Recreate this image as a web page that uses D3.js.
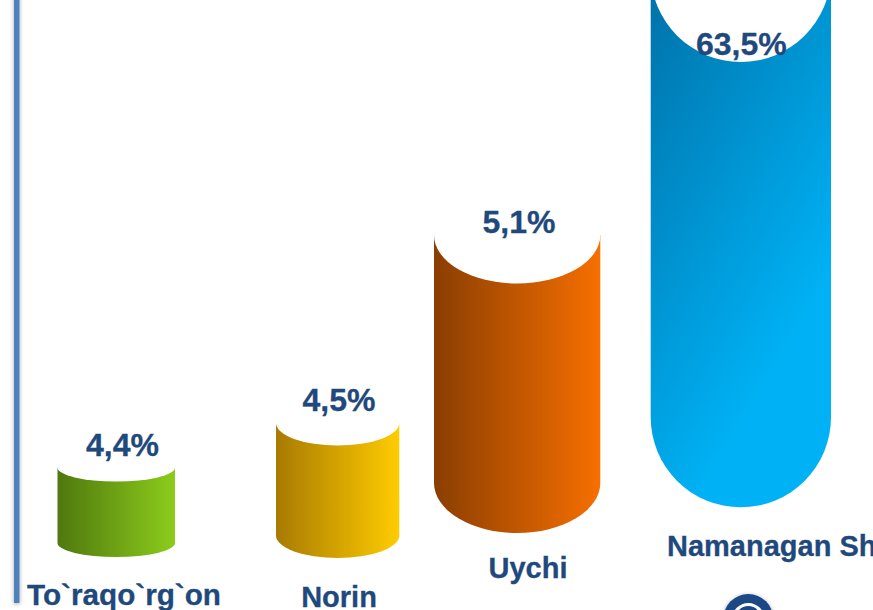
<!DOCTYPE html>
<html><head><meta charset="utf-8">
<script src="https://cdn.jsdelivr.net/npm/d3@7"></script>
<style>html,body{margin:0;padding:0;background:#fff;overflow:hidden}svg{display:block}</style>
</head><body><div id="c"></div>
<script>
const categories = ["To`raqo`rg`on", "Norin", "Uychi", "Namanagan Shahar"];
const values = [4.4, 4.5, 5.1, 63.5];
const valueLabels = ["4,4%", "4,5%", "5,1%", "63,5%"];

const W = 873, H = 610;
const svg = d3.select("#c").append("svg").attr("width", W).attr("height", H).attr("viewBox", [0, 0, W, H]);
const defs = svg.append("defs");

// scales: the reference's pictorial chart is not linear, so the value axis is piecewise
const yTop = d3.scaleLinear().domain(values).range([467.5, 423, 235, -28]);
const xLeft = d3.scaleOrdinal(categories, [57.5, 276, 434, 650.7]);
const xWidth = d3.scaleOrdinal(categories, [117.5, 123.3, 166.3, 180.3]);
const yBase = d3.scaleOrdinal(categories, [543, 535.5, 483, 417.3]);
const ry = d3.scaleOrdinal(categories, [14, 22.5, 50, 90]);
const ryTop = d3.scaleOrdinal(categories, [14, 22.5, 48.5, 90]);
const valX = d3.scaleOrdinal(categories, [122.5, 339, 519, 741.3]);
const valY = d3.scaleOrdinal(categories, [456, 410.5, 233, 55]);
const catX = d3.scaleOrdinal(categories, [124, 339, 528, 667]);
const catY = d3.scaleOrdinal(categories, [604.5, 606.5, 577.5, 556]);
const catAnchor = d3.scaleOrdinal(categories, ["middle", "middle", "middle", "start"]);
const catSize = d3.scaleOrdinal(categories, [29.7, 29, 29, 29]);
const gradFrom = d3.scaleOrdinal(categories, ["#4f780e", "#a87a02", "#8a3e02", "#006fa6"]);
const gradTo = d3.scaleOrdinal(categories, ["#8ccc1c", "#ffcc00", "#f76f00", "#00b2f5"]);

const shadow = defs.append("filter").attr("id", "soft")
  .attr("x", "-100%").attr("y", "-5%").attr("width", "300%").attr("height", "110%");
shadow.append("feDropShadow").attr("dx", 0).attr("dy", 1).attr("stdDeviation", 2)
  .attr("flood-color", "#000").attr("flood-opacity", 0.35);

categories.forEach((c, i) => {
  const g = defs.append("linearGradient").attr("id", "g" + i).attr("gradientUnits", "userSpaceOnUse");
  const x0 = xLeft(c), x1 = x0 + xWidth(c);
  if (i === 3) {
    g.attr("x1", x0).attr("y1", -40).attr("x2", 925).attr("y2", 125);
  } else {
    g.attr("x1", x0).attr("y1", 0).attr("x2", x1).attr("y2", 0);
  }
  g.append("stop").attr("offset", 0).attr("stop-color", gradFrom(c));
  g.append("stop").attr("offset", 1).attr("stop-color", gradTo(c));
});

// left axis rule
svg.append("rect").attr("x", 14).attr("y", -20).attr("width", 5.5).attr("height", 623)
  .attr("fill", "#4f81bd").attr("filter", "url(#soft)");

const bars = svg.selectAll("g.bar").data(categories.map((c, i) => ({c, v: values[i], label: valueLabels[i]})))
  .join("g").attr("class", "bar");

bars.append("path")
  .attr("fill", (d, i) => `url(#g${i})`)
  .attr("d", d => {
    const l = xLeft(d.c), w = xWidth(d.c), r = ry(d.c), t = yTop(d.v), b = yBase(d.c);
    return `M${l},${t}L${l},${b}A${w / 2},${r} 0 0 0 ${l + w},${b}L${l + w},${t}Z`;
  });

bars.append("ellipse")
  .attr("fill", "#fff")
  .attr("cx", d => xLeft(d.c) + xWidth(d.c) / 2)
  .attr("cy", d => yTop(d.v))
  .attr("rx", d => xWidth(d.c) / 2)
  .attr("ry", d => ryTop(d.c));

const font = "'Liberation Sans', Arial, sans-serif";
bars.append("text")
  .attr("x", d => valX(d.c)).attr("y", d => valY(d.c))
  .attr("text-anchor", "middle")
  .attr("font-family", font).attr("font-weight", "bold").attr("font-size", 32)
  .attr("stroke", "#1f497d").attr("stroke-width", 0.3)
  .attr("fill", "#1f497d").text(d => d.label);

bars.append("text")
  .attr("x", d => catX(d.c)).attr("y", d => catY(d.c))
  .attr("text-anchor", d => catAnchor(d.c))
  .attr("font-family", font).attr("font-weight", "bold").attr("font-size", d => catSize(d.c))
  .attr("stroke", "#1f497d").attr("stroke-width", 0.3)
  .attr("fill", "#1f497d").text(d => d.c);

// logo, cut by the bottom edge of the picture
const logo = svg.append("g");
logo.append("circle").attr("cx", 748.3).attr("cy", 619).attr("r", 25).attr("fill", "#1a4a85").attr("filter", "url(#soft)");
logo.append("circle").attr("cx", 748.3).attr("cy", 619).attr("r", 14.5).attr("fill", "none").attr("stroke", "#fff").attr("stroke-width", 3.2);
</script></body></html>
